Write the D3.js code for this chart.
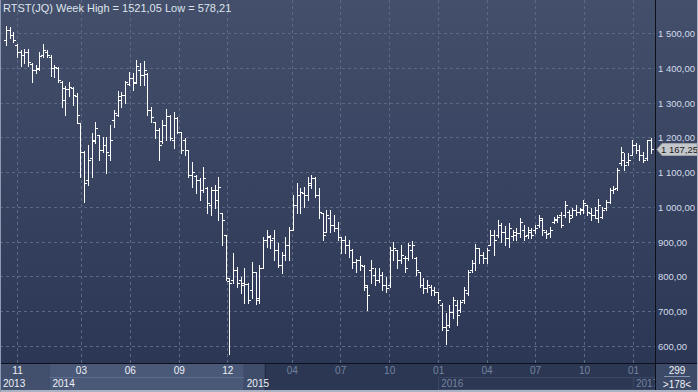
<!DOCTYPE html>
<html>
<head>
<meta charset="utf-8">
<script src="https://cdn.jsdelivr.net/npm/d3@7"></script>
<style>
  body { margin: 0; background: #fff; }
  svg { display: block; }
  text { font-family: "Liberation Sans", Arial, sans-serif; }
</style>
</head>
<body>
<div id="chart"></div>
<script>
// weekly OHLC bars, first week starts here
const firstWeek = new Date(2013, 9, 11);

const open = [
  1480,1509,1494,1466,1445,1437,1445,1411,1394,1399,
  1437,1445,1431,1399,1399,1359,1307,1339,1342,1319,
  1241,1158,1077,1140,1192,1207,1164,1178,1149,1250,
  1264,1307,1322,1353,1371,1359,1394,1379,1382,1279,
  1244,1221,1190,1236,1261,1192,1256,1216,1192,1164,
  1092,1090,1077,1049,1055,1005,1049,1049,983,919,
  788,790,819,790,781,778,761,813,732,825,
  905,914,911,876,833,862,891,934,1005,1034,
  1040,1034,1063,1083,1034,983,928,968,948,940,
  914,905,891,876,842,847,830,770,819,804,
  790,804,776,776,876,876,847,853,853,876,
  853,813,776,767,770,761,756,718,655,660,
  698,718,704,732,753,819,839,882,862,853,
  891,919,919,948,928,911,917,919,925,934,
  919,928,934,948,962,928,925,957,962,977,
  977,986,977,991,986,991,1005,983,977,968,
  971,997,1014,1049,1055,1126,1135,1129,1149,1178,
  1164,1149,1141,1192
];

const high = [
  1521.05,1518,1503,1468,1451,1454,1454,1414,1408,1445,
  1468,1451,1437,1408,1402,1362,1348,1359,1345,1328,
  1241,1160,1178,1213,1244,1207,1201,1201,1236,1279,
  1333,1330,1362,1388,1385,1422,1414,1420,1385,1287,
  1244,1227,1250,1282,1264,1273,1259,1216,1198,1164,
  1129,1092,1083,1115,1057,1057,1063,1086,983,919,
  796,868,827,799,825,781,842,813,833,914,
  934,919,934,896,870,914,942,1034,1069,1055,
  1057,1086,1092,1086,1055,983,991,991,977,957,
  914,917,905,879,850,859,833,776,847,825,
  825,813,799,885,899,876,891,859,896,902,
  856,813,796,790,776,770,756,724,695,718,
  741,732,732,770,819,847,893,882,870,882,
  934,934,962,954,945,954,934,940,968,948,
  942,940,948,977,968,934,942,971,977,986,
  1017,991,997,1005,997,1020,1005,997,1000,1023,
  1000,1020,1055,1060,1112,1172,1155,1155,1193,1184,
  1178,1158,1192,1198
];

const low = [
  1466,1486,1474,1431,1405,1414,1405,1359,1385,1394,
  1431,1431,1376,1374,1359,1287,1264,1319,1293,1241,
  1086,1014,1063,1086,1184,1135,1158,1098,1135,1230,
  1261,1287,1299,1350,1336,1356,1350,1350,1264,1244,
  1198,1135,1184,1192,1192,1170,1213,1155,1149,1086,
  1057,1040,1020,1043,983,977,997,962,891,790,
  578.21,781,770,753,724,724,738,721,724,825,
  885,882,847,827,810,847,847,934,983,983,
  1000,1020,1055,1029,968,905,928,928,931,905,
  868,868,856,825,813,819,761,704,781,776,
  784,761,756,770,847,825,839,813,847,853,
  804,770,753,756,747,747,724,646,606,655,
  681,660,698,724,747,813,819,839,839,839,
  891,862,914,899,891,885,905,905,914,905,
  911,911,925,942,919,911,914,954,957,942,
  971,957,971,977,980,983,977,962,968,957,
  968,991,1011,1040,1049,1120,1106,1120,1149,1155,
  1135,1129,1135,1155
];

const close = [
  1509,1494,1480,1445,1437,1445,1417,1394,1397,1434,
  1451,1437,1399,1402,1365,1342,1339,1345,1322,1264,
  1158,1069,1135,1190,1227,1164,1178,1158,1192,1270,
  1319,1322,1359,1371,1356,1405,1379,1394,1279,1259,
  1221,1178,1236,1261,1198,1256,1216,1164,1164,1092,
  1100,1077,1049,1083,1011,1049,1020,1057,962,796,
  781,819,781,776,778,732,813,738,825,905,
  917,905,876,833,862,891,934,1005,1034,1043,
  1034,1069,1083,1034,986,919,977,948,940,914,
  905,891,876,842,847,833,776,747,825,790,
  804,776,767,876,882,847,862,825,891,891,
  819,776,767,776,761,756,732,655,646,698,
  732,689,727,761,813,839,882,862,853,876,
  919,905,948,928,911,940,928,925,957,917,
  934,919,940,968,934,922,934,965,971,948,
  1005,968,991,986,994,1011,986,977,991,1005,
  991,1014,1049,1052,1106,1158,1120,1135,1178,1164,
  1149,1135,1192,1167.25
];

const priceTicks = [600, 700, 800, 900, 1000, 1100, 1200, 1300, 1400, 1500];
const monthTicks = [
  new Date(2013, 10, 1), new Date(2014, 2, 1), new Date(2014, 5, 1), new Date(2014, 8, 1),
  new Date(2014, 11, 1), new Date(2015, 3, 1), new Date(2015, 6, 1), new Date(2015, 9, 1),
  new Date(2016, 0, 1), new Date(2016, 3, 1), new Date(2016, 6, 1), new Date(2016, 9, 1),
  new Date(2017, 0, 1)
];
const monthLabels = ["11", "03", "06", "09", "12", "04", "07", "10", "01", "04", "07", "10", "01"];
const yearStarts = [new Date(2013, 0, 1), new Date(2014, 0, 1), new Date(2015, 0, 1), new Date(2016, 0, 1), new Date(2017, 0, 1)];
const yearLabels = ["2013", "2014", "2015", "2016", "2017"];
const dimFrom = new Date(2015, 1, 9);   // axis band is greyed out from here on
const lastPrice = 1167.25;
const barCount = 299, visibleCount = 178;

const W = 698, H = 392;
const plotRight = 655, plotBottom = 363;

const svg = d3.select("#chart").append("svg")
  .attr("width", W)
  .attr("height", H);

const defs = svg.append("defs");
const grad = defs.append("linearGradient")
  .attr("id", "bg")
  .attr("x1", 0).attr("y1", 0).attr("x2", 0).attr("y2", 1);
grad.append("stop").attr("offset", "0%").attr("stop-color", "#434f6b");
grad.append("stop").attr("offset", "100%").attr("stop-color", "#2b3754");

defs.append("clipPath").attr("id", "plotclip")
  .append("rect").attr("x", 0).attr("y", 0).attr("width", plotRight).attr("height", plotBottom);

svg.append("rect")
  .attr("width", W).attr("height", plotBottom)
  .attr("fill", "url(#bg)");

const fmt = d3.formatLocale({ decimal: ",", thousands: " ", grouping: [3], currency: ["", ""] }).format(",.2f");

const dates = open.map((d, i) => d3.timeDay.offset(firstWeek, 7 * i));

const x = d3.scaleTime()
  .domain([new Date(2013, 10, 1), new Date(2017, 0, 1)])
  .range([17, 633]);
const y = d3.scaleLinear()
  .domain([600, 1500])
  .range([346, 33]);

const px = v => Math.round(v) + 0.5;

// grid
const grid = svg.append("g").attr("clip-path", "url(#plotclip)");
grid.selectAll(".hgrid")
  .data(priceTicks)
  .join("line")
  .attr("x1", 0).attr("x2", plotRight)
  .attr("y1", d => px(y(d))).attr("y2", d => px(y(d)))
  .attr("stroke", "#5b6985")
  .attr("stroke-dasharray", "3,3");
grid.selectAll(".vgrid")
  .data(monthTicks)
  .join("line")
  .attr("x1", d => px(x(d))).attr("x2", d => px(x(d)))
  .attr("y1", 0).attr("y2", plotBottom)
  .attr("stroke", "#5b6985")
  .attr("stroke-dasharray", "3,3");

// OHLC bars
const bars = svg.append("g")
  .attr("clip-path", "url(#plotclip)")
  .attr("stroke", "#ffffff")
  .attr("stroke-width", 1)
  .attr("shape-rendering", "crispEdges");

const idx = d3.range(open.length);
bars.selectAll(".hl")
  .data(idx)
  .join("line")
  .attr("x1", i => px(x(dates[i]))).attr("x2", i => px(x(dates[i])))
  .attr("y1", i => Math.round(y(high[i]))).attr("y2", i => Math.round(y(low[i])) + 1);
bars.selectAll(".op")
  .data(idx)
  .join("line")
  .attr("x1", i => Math.round(x(dates[i])) - 2).attr("x2", i => Math.round(x(dates[i])))
  .attr("y1", i => px(y(open[i]))).attr("y2", i => px(y(open[i])));
bars.selectAll(".cl")
  .data(idx)
  .join("line")
  .attr("x1", i => Math.round(x(dates[i])) + 1).attr("x2", i => Math.round(x(dates[i])) + 3)
  .attr("y1", i => px(y(close[i]))).attr("y2", i => px(y(close[i])));

// title
svg.append("text")
  .attr("x", 3).attr("y", 12)
  .attr("fill", "#dfe4ec")
  .style("font-size", "11px")
  .text("RTST(JQ) Week High = 1521,05 Low = 578,21");

// right price axis
svg.append("g")
  .selectAll("text")
  .data(priceTicks)
  .join("text")
  .attr("x", 658)
  .attr("y", d => y(d) + 4)
  .attr("fill", "#d3dbea")
  .style("font-size", "9.5px")
  .text(d => fmt(d));

// last price marker
const ly = Math.round(y(lastPrice)) + 0.5;
svg.append("path")
  .attr("d", `M657,${ly} L662,${ly - 6} L697,${ly - 6} L697,${ly + 6} L662,${ly + 6} Z`)
  .attr("fill", "#c3c6ca")
  .attr("stroke", "#9ea3a9");
svg.append("text")
  .attr("x", 661).attr("y", ly + 3.5)
  .attr("fill", "#1c1c1c")
  .style("font-size", "9.5px")
  .text(fmt(lastPrice));

// bottom time axis bands
const band = svg.append("g");
band.append("rect")
  .attr("x", 0).attr("y", plotBottom).attr("width", W).attr("height", H - plotBottom)
  .attr("fill", "#2b3753");
band.append("rect")
  .attr("x", 0).attr("y", plotBottom).attr("width", x(yearStarts[1])).attr("height", 27)
  .attr("fill", "#42506e");
band.append("rect")
  .attr("x", x(yearStarts[1])).attr("y", plotBottom).attr("width", x(yearStarts[2]) - x(yearStarts[1])).attr("height", 27)
  .attr("fill", "#4b5979");
band.append("rect")
  .attr("x", x(yearStarts[2])).attr("y", plotBottom).attr("width", x(dimFrom) - x(yearStarts[2])).attr("height", 27)
  .attr("fill", "#3f4c6a");
band.append("line")
  .attr("x1", x(yearStarts[1])).attr("x2", x(yearStarts[2]))
  .attr("y1", 377.5).attr("y2", 377.5)
  .attr("stroke", "#5f6d8c");
band.append("line")
  .attr("x1", px(x(dimFrom))).attr("x2", px(x(dimFrom)))
  .attr("y1", plotBottom).attr("y2", 390)
  .attr("stroke", "#222c42");
// dimmed year boxes
band.selectAll(".ybox")
  .data(yearStarts.slice(3))
  .join("rect")
  .attr("x", d => px(x(d)))
  .attr("y", 377.5)
  .attr("width", (d, i) => (i === 0 ? x(yearStarts[4]) - x(d) : plotRight - x(d)))
  .attr("height", 12)
  .attr("fill", "none")
  .attr("stroke", "#3a4764");

const xAxis = d3.axisBottom(x)
  .tickValues(monthTicks)
  .tickFormat((d, i) => monthLabels[i])
  .tickSize(0)
  .tickPadding(0);
const xg = svg.append("g")
  .attr("transform", `translate(0,${plotBottom})`)
  .call(xAxis);
xg.select(".domain").remove();
xg.selectAll("text")
  .attr("dy", null)
  .attr("y", 11)
  .attr("fill", d => (d < dimFrom ? "#eef1f6" : "#75839f"))
  .style("font-size", "10px")
  .style("font-family", "'Liberation Sans', Arial, sans-serif");

svg.append("g")
  .selectAll("text")
  .data(yearStarts)
  .join("text")
  .attr("x", (d, i) => (i === 0 ? 3 : x(d) + 3))
  .attr("y", 387)
  .attr("fill", d => (d < dimFrom ? "#eef1f6" : "#75839f"))
  .style("font-size", "10px")
  .text((d, i) => yearLabels[i]);

// frame lines
svg.append("line")
  .attr("x1", 0).attr("x2", W).attr("y1", plotBottom + 0.5).attr("y2", plotBottom + 0.5)
  .attr("stroke", "#0b101b");
svg.append("line")
  .attr("x1", plotRight + 0.5).attr("x2", plotRight + 0.5).attr("y1", 0).attr("y2", 390)
  .attr("stroke", "#0b101b");

// counter box bottom right
svg.append("rect")
  .attr("x", plotRight + 1).attr("y", plotBottom + 1).attr("width", W - plotRight - 1).attr("height", 26)
  .attr("fill", "#3d4a67");
svg.append("line")
  .attr("x1", 664).attr("x2", 690).attr("y1", 376.5).attr("y2", 376.5)
  .attr("stroke", "#8794ad");
svg.append("text")
  .attr("x", 677).attr("y", 374)
  .attr("text-anchor", "middle")
  .attr("fill", "#eef1f6")
  .style("font-size", "10px")
  .text(barCount);
svg.append("text")
  .attr("x", 677).attr("y", 388)
  .attr("text-anchor", "middle")
  .attr("fill", "#eef1f6")
  .style("font-size", "10px")
  .text(`>${visibleCount}<`);

// outer light border
svg.append("rect")
  .attr("x", 0).attr("y", 390).attr("width", W).attr("height", 2)
  .attr("fill", "#a9b3c3");
svg.append("rect")
  .attr("x", 0).attr("y", 0).attr("width", 1).attr("height", H)
  .attr("fill", "#8d9bb2");
svg.append("rect")
  .attr("x", W - 1).attr("y", 0).attr("width", 1).attr("height", H)
  .attr("fill", "#a9b3c3");
</script>
</body>
</html>
